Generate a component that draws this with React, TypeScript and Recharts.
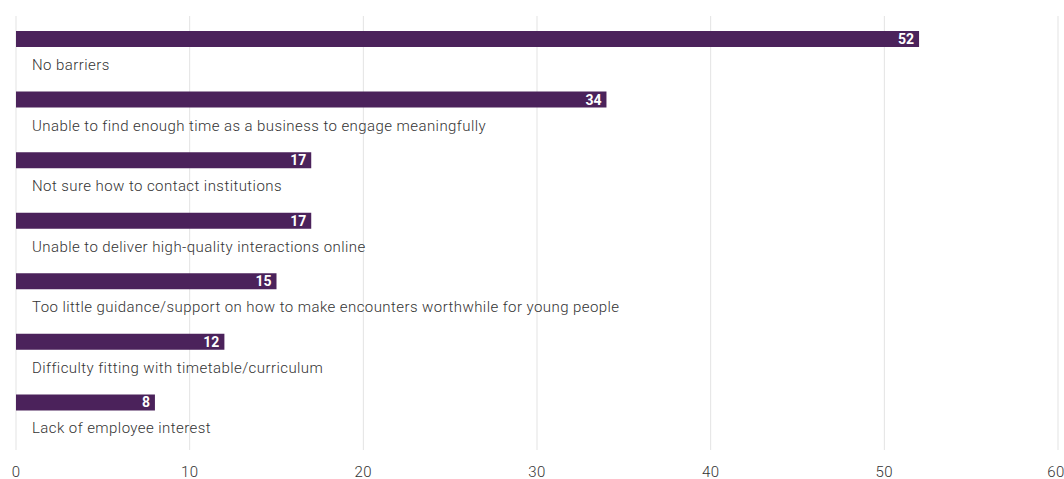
import React from 'react';
import { BarChart, Bar, XAxis, YAxis, CartesianGrid, LabelList, Rectangle } from 'recharts';

const categories = [
  'No barriers',
  'Unable to find enough time as a business to engage meaningfully',
  'Not sure how to contact institutions',
  'Unable to deliver high-quality interactions online',
  'Too little guidance/support on how to make encounters worthwhile for young people',
  'Difficulty fitting with timetable/curriculum',
  'Lack of employee interest',
];
const values = [52, 34, 17, 17, 15, 12, 8];
const xTicks = [0, 10, 20, 30, 40, 50, 60];

const data = categories.map((name, i) => ({ name, value: values[i] }));

const BAR_COLOR = '#4b225b';
const FONT = 'Roboto, "Noto Sans", sans-serif';
const SHIFT = -7;

const BarShape = (props: any) => <Rectangle {...props} y={props.y + SHIFT} />;

const ValueLabel = (props: any) => {
  const { x, y, width, height, value } = props;
  return (
    <text
      x={x + width - 5}
      y={y + SHIFT + height / 2}
      textAnchor="end"
      dominantBaseline="central"
      fill="#fff"
      fontWeight={700}
      fontSize={14}
      fontFamily={FONT}
    >
      {value}
    </text>
  );
};

const NameLabel = (props: any) => {
  const { x, y, height, value } = props;
  return (
    <text
      x={x + 16}
      y={y + SHIFT + height + 18}
      dominantBaseline="central"
      fill="#333"
      fontSize={15}
      fontWeight={300}
      letterSpacing={0.43}
      fontFamily={FONT}
    >
      {value}
    </text>
  );
};

export default function App() {
  return (
    <div style={{ position: 'absolute', left: 0, top: 0 }}>
      <BarChart
        width={1064}
        height={479}
        data={data}
        layout="vertical"
        margin={{ top: 16, right: 6, bottom: 0, left: 16 }}
      >
        <CartesianGrid horizontal={false} stroke="#e3e3e3" />
        <XAxis
          type="number"
          domain={[0, 60]}
          ticks={xTicks}
          axisLine={false}
          tickLine={false}
          height={29}
          tickMargin={10}
          tick={{ fill: '#333', fontSize: 15, fontWeight: 300, letterSpacing: 0.4, fontFamily: FONT }}
        />
        <YAxis type="category" dataKey="name" hide padding={{ top: 0, bottom: 10 }} />
        <Bar dataKey="value" fill={BAR_COLOR} barSize={16} isAnimationActive={false} shape={BarShape}>
          <LabelList dataKey="value" content={ValueLabel} />
          <LabelList dataKey="name" content={NameLabel} />
        </Bar>
      </BarChart>
    </div>
  );
}
